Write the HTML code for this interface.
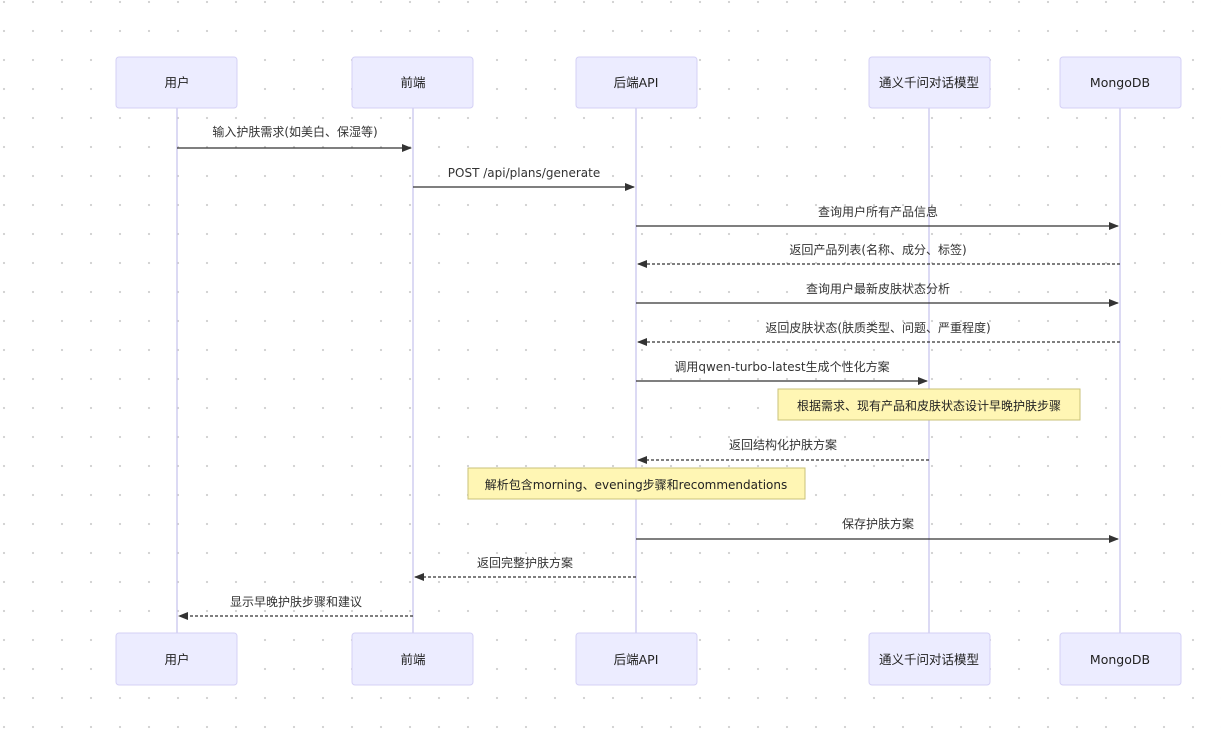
<!DOCTYPE html>
<html><head><meta charset="utf-8"><style>
html,body{margin:0;padding:0;background:#fff;}
svg{display:block;font-family:"DejaVu Sans","Noto Sans CJK SC",sans-serif;}
</style></head><body>
<svg width="1221" height="746" viewBox="0 0 1221 746" xmlns="http://www.w3.org/2000/svg">
<defs>
<pattern id="g" x="-10" y="-12" width="29" height="29" patternUnits="userSpaceOnUse"><circle cx="14" cy="14" r="1.1" fill="#cfcfcf"/></pattern>
<marker id="a" markerWidth="10" markerHeight="8" refX="9" refY="4" orient="auto" markerUnits="userSpaceOnUse"><path d="M0,0L10,4L0,8z" fill="#333"/></marker>
</defs>
<rect width="1221" height="746" fill="url(#g)"/>
<g stroke="#c9c5ee" stroke-width="1.3">
<line x1="177" y1="108" x2="177" y2="633"/><line x1="413" y1="108" x2="413" y2="633"/><line x1="636" y1="108" x2="636" y2="633"/><line x1="929" y1="108" x2="929" y2="633"/><line x1="1120" y1="108" x2="1120" y2="633"/>
</g>
<g fill="#ececff" stroke="#d4d0f5" stroke-width="1">
<rect x="116" y="57" width="121" height="51" rx="3"/><rect x="352" y="57" width="121" height="51" rx="3"/><rect x="576" y="57" width="121" height="51" rx="3"/><rect x="869" y="57" width="121" height="51" rx="3"/><rect x="1060" y="57" width="121" height="51" rx="3"/>
<rect x="116" y="633" width="121" height="52" rx="3"/><rect x="352" y="633" width="121" height="52" rx="3"/><rect x="576" y="633" width="121" height="52" rx="3"/><rect x="869" y="633" width="121" height="52" rx="3"/><rect x="1060" y="633" width="121" height="52" rx="3"/>
</g>
<g font-size="12.5" fill="#222" text-anchor="middle">
<text x="177" y="87">用户</text><text x="413" y="87">前端</text><text x="636" y="87">后端API</text><text x="929" y="87">通义千问对话模型</text><text x="1120" y="87">MongoDB</text>
<text x="177" y="664">用户</text><text x="413" y="664">前端</text><text x="636" y="664">后端API</text><text x="929" y="664">通义千问对话模型</text><text x="1120" y="664">MongoDB</text>
</g>
<g fill="#fff6b4" stroke="#c8c27a" stroke-width="1">
<rect x="778" y="389" width="302" height="31"/><rect x="468" y="468" width="337" height="31"/>
</g>
<g stroke="#333" stroke-width="1.3" fill="none">
<line x1="177" y1="148" x2="411" y2="148" marker-end="url(#a)"/>
<line x1="413" y1="187" x2="634" y2="187" marker-end="url(#a)"/>
<line x1="636" y1="226" x2="1118" y2="226" marker-end="url(#a)"/>
<line x1="1120" y1="264" x2="638" y2="264" stroke-dasharray="3,2" marker-end="url(#a)"/>
<line x1="636" y1="303" x2="1118" y2="303" marker-end="url(#a)"/>
<line x1="1120" y1="342" x2="638" y2="342" stroke-dasharray="3,2" marker-end="url(#a)"/>
<line x1="636" y1="381" x2="927" y2="381" marker-end="url(#a)"/>
<line x1="929" y1="460" x2="638" y2="460" stroke-dasharray="3,2" marker-end="url(#a)"/>
<line x1="636" y1="539" x2="1118" y2="539" marker-end="url(#a)"/>
<line x1="636" y1="577" x2="415" y2="577" stroke-dasharray="3,2" marker-end="url(#a)"/>
<line x1="413" y1="616" x2="179" y2="616" stroke-dasharray="3,2" marker-end="url(#a)"/>
</g>
<g font-size="12" fill="#333" text-anchor="middle">
<text x="295" y="136">输入护肤需求(如美白、保湿等)</text>
<text x="524" y="177">POST /api/plans/generate</text>
<text x="878" y="216">查询用户所有产品信息</text>
<text x="878" y="254">返回产品列表(名称、成分、标签)</text>
<text x="878" y="293">查询用户最新皮肤状态分析</text>
<text x="878" y="332">返回皮肤状态(肤质类型、问题、严重程度)</text>
<text x="782" y="371">调用qwen-turbo-latest生成个性化方案</text>
<text x="929" y="410" fill="#222">根据需求、现有产品和皮肤状态设计早晚护肤步骤</text>
<text x="783" y="449">返回结构化护肤方案</text>
<text x="636" y="489" fill="#222">解析包含morning、evening步骤和recommendations</text>
<text x="878" y="528">保存护肤方案</text>
<text x="525" y="567">返回完整护肤方案</text>
<text x="296" y="606">显示早晚护肤步骤和建议</text>
</g>
</svg>
</body></html>
